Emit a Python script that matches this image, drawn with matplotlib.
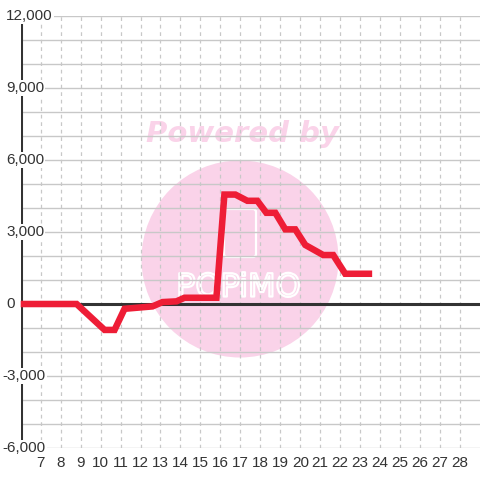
import matplotlib
matplotlib.use("Agg")
import matplotlib.pyplot as plt
import matplotlib.patheffects as pe
from matplotlib.patches import Circle, FancyBboxPatch
from matplotlib.transforms import blended_transform_factory

# ---- data ----
hours = [6, 8.8, 10.2, 10.7, 11.2, 12.6, 13.1, 13.8, 14.2, 15.8, 16.2, 16.75,
         17.35, 17.85, 18.3, 18.75, 19.25, 19.75, 20.25, 21.15, 21.65, 22.25, 23.6]
values = [0, 0, -1080, -1080, -200, -100, 80, 110, 260, 260, 4560, 4560,
          4300, 4300, 3800, 3800, 3110, 3110, 2460, 2040, 2040, 1260, 1260]
x_ticks = list(range(7, 29))
y_ticks = [-6000, -3000, 0, 3000, 6000, 9000, 12000]
y_grid = list(range(-6000, 12001, 1000))

W, H = 480, 480
fig = plt.figure(figsize=(4.8, 4.8), dpi=100)
fig.patch.set_facecolor("white")
ax = fig.add_axes([20.7 / W, 32 / H, (W - 20.7) / W, 432 / H])
ax.set_xlim(6, 29)
ax.set_ylim(-6000, 12000)
for s in ax.spines.values():
    s.set_visible(False)
ax.set_facecolor("white")

# watermark
pink = "#FAD3E9"
circ = Circle((2.40, 4.80 - 2.59), 0.985, transform=fig.dpi_scale_trans,
              facecolor=pink, edgecolor="none", zorder=0.5)
ax.add_patch(circ)
ax.text(2.42, 4.80 - 1.34, "Powered by", transform=fig.dpi_scale_trans,
        ha="center", va="center", fontsize=21, fontweight="bold",
        fontstyle="italic", color=pink, family="DejaVu Sans", zorder=0.6)
phone = FancyBboxPatch((2.24, 2.23), 0.32, 0.48, boxstyle="round,pad=0,rounding_size=0.03",
                       transform=fig.dpi_scale_trans, facecolor="none",
                       edgecolor="white", linewidth=1.6, zorder=0.7)
ax.add_patch(phone)
ax.text(2.385, 4.80 - 2.88, "POPiMO", transform=fig.dpi_scale_trans,
        ha="center", va="center", fontsize=23, color=pink, family="DejaVu Sans",
        zorder=0.7, path_effects=[pe.Stroke(linewidth=1.6, foreground="white")])

# grid
grid_c = "#c8c8c8"
for yv in y_grid:
    ax.axhline(yv, color=grid_c, lw=1.0, zorder=1)
for xv in x_ticks:
    ax.axvline(xv, color=grid_c, lw=0.9, ls=(0, (3, 3)), zorder=1)

# axis lines
ax.axhline(0, color="#333333", lw=2.2, zorder=2)
ax.axvline(6, color="#333333", lw=2.2, zorder=2)

# data
ax.plot(hours, values, color="#EE1D36", lw=4.7, solid_joinstyle="miter",
        solid_capstyle="butt", zorder=3, clip_on=False)

# x tick labels
ax.set_xticks(x_ticks)
ax.set_xticklabels([str(v) for v in x_ticks])
ax.tick_params(axis="x", length=0, pad=6, labelsize=11, labelcolor="#333333")
ax.set_yticks([])

# y tick labels (left aligned with white boxes)
tr = blended_transform_factory(fig.dpi_scale_trans, ax.transData)
for yv in y_ticks:
    lab = f"{yv:,}"
    x0 = 0.027 if yv < 0 else 0.06
    ax.text(x0, yv, lab, transform=tr, ha="left", va="center", fontsize=11,
            color="#333333", family="Liberation Sans", zorder=4, clip_on=False,
            bbox=dict(facecolor="white", edgecolor="none", pad=0.8))
for t in ax.get_xticklabels():
    t.set_family("Liberation Sans")

fig.savefig("out.png", dpi=100, facecolor="white")
